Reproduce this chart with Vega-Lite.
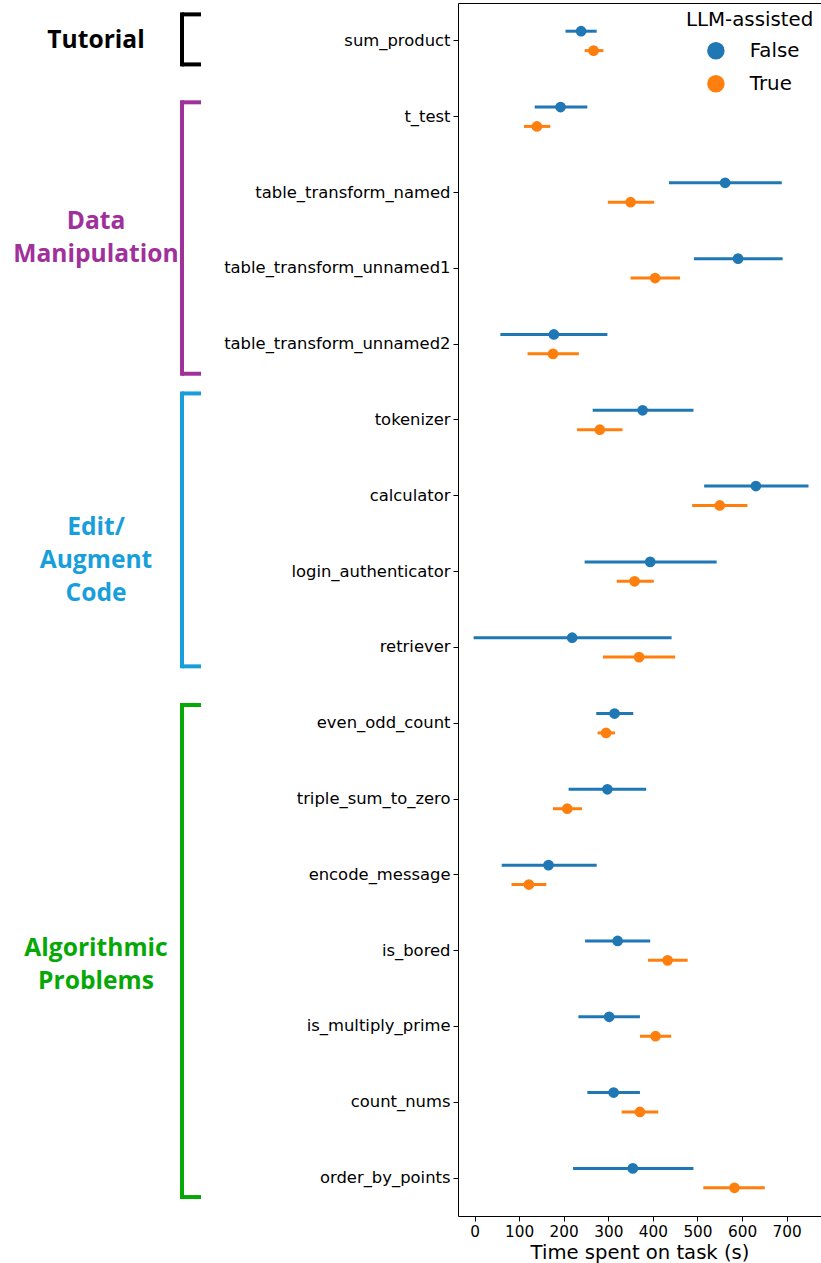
{
  "$schema": "https://vega.github.io/schema/vega-lite/v6.json",
  "padding": {"left": 0, "top": 2, "right": 0, "bottom": 0},
  "spacing": 18,
  "config": {"view": {"stroke": null}, "font": "DejaVu Sans"},
  "resolve": {"scale": {"color": "independent"}, "legend": {"color": "independent"}},
  "datasets": {
    "times": [
      {"task": "sum_product", "llm": "False", "mean": 239, "lo": 204, "hi": 274},
      {"task": "sum_product", "llm": "True", "mean": 267, "lo": 247, "hi": 289},
      {"task": "t_test", "llm": "False", "mean": 193, "lo": 135, "hi": 253},
      {"task": "t_test", "llm": "True", "mean": 140, "lo": 111, "hi": 170},
      {"task": "table_transform_named", "llm": "False", "mean": 562, "lo": 436, "hi": 689},
      {"task": "table_transform_named", "llm": "True", "mean": 350, "lo": 299, "hi": 403},
      {"task": "table_transform_unnamed1", "llm": "False", "mean": 591, "lo": 492, "hi": 691},
      {"task": "table_transform_unnamed1", "llm": "True", "mean": 405, "lo": 350, "hi": 461},
      {"task": "table_transform_unnamed2", "llm": "False", "mean": 178, "lo": 58, "hi": 298},
      {"task": "table_transform_unnamed2", "llm": "True", "mean": 176, "lo": 119, "hi": 234},
      {"task": "tokenizer", "llm": "False", "mean": 377, "lo": 265, "hi": 491},
      {"task": "tokenizer", "llm": "True", "mean": 281, "lo": 230, "hi": 332},
      {"task": "calculator", "llm": "False", "mean": 631, "lo": 515, "hi": 749},
      {"task": "calculator", "llm": "True", "mean": 550, "lo": 488, "hi": 612},
      {"task": "login_authenticator", "llm": "False", "mean": 394, "lo": 247, "hi": 543},
      {"task": "login_authenticator", "llm": "True", "mean": 359, "lo": 319, "hi": 402},
      {"task": "retriever", "llm": "False", "mean": 219, "lo": -2, "hi": 442},
      {"task": "retriever", "llm": "True", "mean": 369, "lo": 288, "hi": 450},
      {"task": "even_odd_count", "llm": "False", "mean": 314, "lo": 273, "hi": 356},
      {"task": "even_odd_count", "llm": "True", "mean": 295, "lo": 276, "hi": 315},
      {"task": "triple_sum_to_zero", "llm": "False", "mean": 298, "lo": 211, "hi": 385},
      {"task": "triple_sum_to_zero", "llm": "True", "mean": 208, "lo": 176, "hi": 241},
      {"task": "encode_message", "llm": "False", "mean": 166, "lo": 61, "hi": 274},
      {"task": "encode_message", "llm": "True", "mean": 122, "lo": 83, "hi": 161},
      {"task": "is_bored", "llm": "False", "mean": 321, "lo": 248, "hi": 394},
      {"task": "is_bored", "llm": "True", "mean": 433, "lo": 389, "hi": 478},
      {"task": "is_multiply_prime", "llm": "False", "mean": 302, "lo": 233, "hi": 371},
      {"task": "is_multiply_prime", "llm": "True", "mean": 406, "lo": 371, "hi": 441},
      {"task": "count_nums", "llm": "False", "mean": 312, "lo": 253, "hi": 371},
      {"task": "count_nums", "llm": "True", "mean": 371, "lo": 330, "hi": 412},
      {"task": "order_by_points", "llm": "False", "mean": 355, "lo": 221, "hi": 491},
      {"task": "order_by_points", "llm": "True", "mean": 583, "lo": 513, "hi": 651}
    ],
    "groups": [
      {"group": "Tutorial", "label": "Tutorial", "start": -0.35, "end": 0.31, "mid": 0},
      {"group": "Data Manipulation", "label": "Data\nManipulation", "start": 0.81, "end": 4.39, "mid": 2.39},
      {"group": "Edit/Augment Code", "label": "Edit/\nAugment\nCode", "start": 4.65, "end": 8.25, "mid": 6.425},
      {"group": "Algorithmic Problems", "label": "Algorithmic\nProblems", "start": 8.76, "end": 15.25, "mid": 11.98}
    ]
  },
  "hconcat": [
    {
      "width": 205,
      "height": 1213,
      "data": {"name": "groups"},
      "encoding": {
        "color": {
          "field": "group",
          "type": "nominal",
          "scale": {
            "domain": ["Tutorial", "Data Manipulation", "Edit/Augment Code", "Algorithmic Problems"],
            "range": ["#000000", "#a0309a", "#189fdb", "#06a806"]
          },
          "legend": null
        }
      },
      "layer": [
        {
          "mark": {"type": "rule", "strokeWidth": 4, "strokeCap": "square"},
          "encoding": {
            "x": {"datum": 182, "type": "quantitative", "scale": {"domain": [0, 205], "nice": false, "zero": false}, "axis": null},
            "y": {"field": "start", "type": "quantitative", "scale": {"domain": [-0.5, 15.5], "reverse": true, "nice": false, "zero": false}, "axis": null},
            "y2": {"field": "end"}
          }
        },
        {
          "mark": {"type": "rule", "strokeWidth": 4},
          "encoding": {
            "x": {"datum": 182, "type": "quantitative"},
            "x2": {"datum": 201},
            "y": {"field": "start", "type": "quantitative"}
          }
        },
        {
          "mark": {"type": "rule", "strokeWidth": 4},
          "encoding": {
            "x": {"datum": 182, "type": "quantitative"},
            "x2": {"datum": 201},
            "y": {"field": "end", "type": "quantitative"}
          }
        },
        {
          "mark": {"type": "text", "font": "Open Sans", "fontWeight": "bold", "fontSize": 24.6, "lineHeight": 33, "lineBreak": "\n", "align": "center", "baseline": "middle"},
          "encoding": {
            "x": {"datum": 96, "type": "quantitative"},
            "y": {"field": "mid", "type": "quantitative"},
            "text": {"field": "label"}
          }
        }
      ]
    },
    {
      "width": 363,
      "height": 1213,
      "view": {"stroke": "black", "strokeWidth": 1},
      "data": {"name": "times"},
      "encoding": {
        "y": {
          "field": "task",
          "type": "nominal",
          "sort": null,
          "scale": {"type": "band", "paddingInner": 0, "paddingOuter": 0},
          "axis": {"title": null, "labelFontSize": 16.4, "tickSize": 5, "labelPadding": 3, "domain": false, "tickColor": "black", "labelColor": "black", "labelLimit": 300}
        },
        "yOffset": {"field": "llm", "type": "nominal", "scale": {"paddingInner": 0, "paddingOuter": 0.954}},
        "color": {
          "field": "llm",
          "type": "nominal",
          "scale": {"domain": ["False", "True"], "range": ["#1f77b4", "#ff7f0e"]},
          "legend": {
            "title": "LLM-assisted",
            "orient": "top-right",
            "offset": 7,
            "padding": 0,
            "titleFontSize": 19.8,
            "titleFontWeight": "normal",
            "titleColor": "black",
            "titlePadding": 11,
            "labelFontSize": 19.8,
            "labelColor": "black",
            "symbolType": "circle",
            "symbolSize": 256,
            "symbolOffset": 20,
            "labelOffset": 24,
            "rowPadding": 10
          }
        }
      },
      "layer": [
        {
          "mark": {"type": "rule", "strokeWidth": 3},
          "encoding": {
            "x": {
              "field": "lo",
              "type": "quantitative",
              "scale": {"domain": [-37, 777], "nice": false, "zero": false},
              "axis": {"title": "Time spent on task (s)", "values": [0, 100, 200, 300, 400, 500, 600, 700], "labelFontSize": 15.3, "titleFontSize": 19.6, "titleFontWeight": "normal", "titleColor": "black", "labelColor": "black", "tickColor": "black", "tickSize": 5, "labelPadding": 3, "titlePadding": 4, "grid": false, "domain": false}
            },
            "x2": {"field": "hi"}
          }
        },
        {
          "mark": {"type": "point", "filled": true, "opacity": 1, "size": 115},
          "encoding": {"x": {"field": "mean", "type": "quantitative"}}
        }
      ]
    }
  ]
}
